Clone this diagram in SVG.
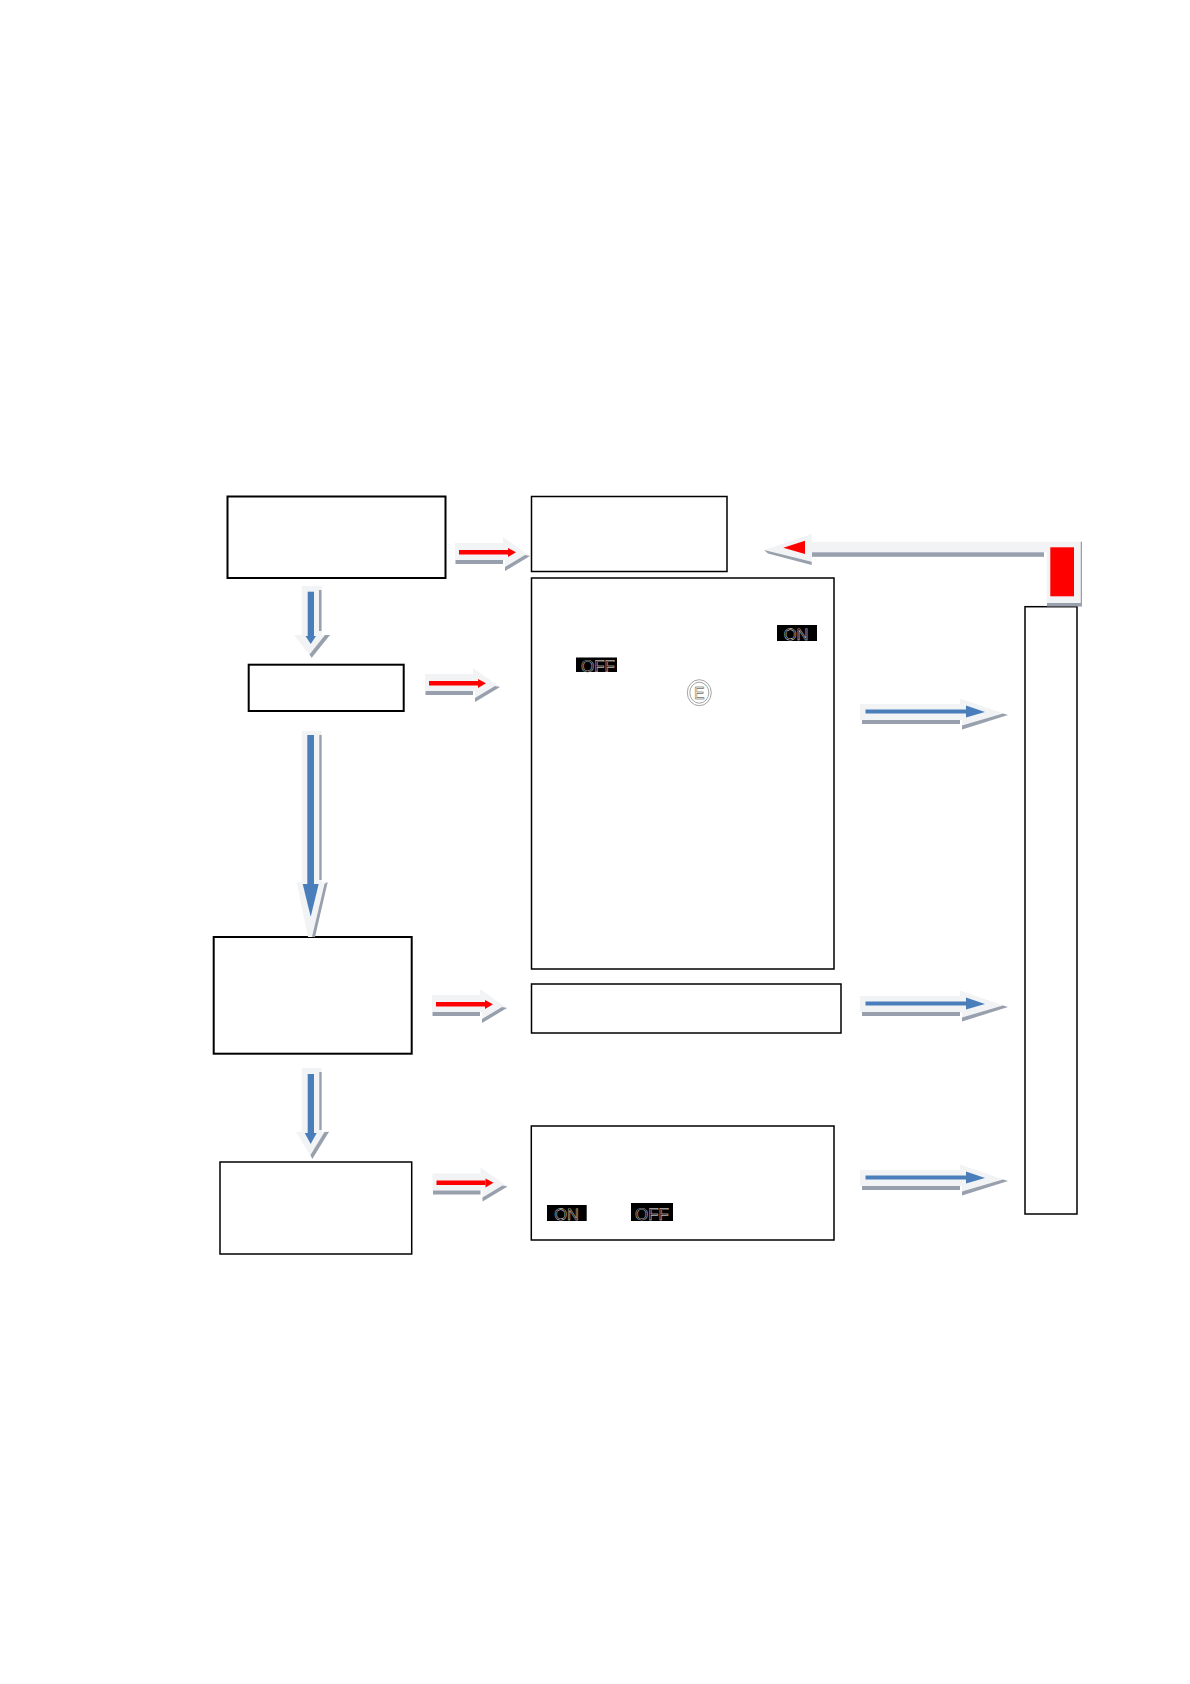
<svg xmlns="http://www.w3.org/2000/svg" width="1190" height="1684" viewBox="0 0 1190 1684">
<style>
.box{fill:#fff;stroke:#000;stroke-width:1.5}
.thick{stroke-width:2}
.lt{fill:#f2f3f5}
.gr{fill:#97a0ac}
.red{fill:#ff0000}
.blu{fill:#4a7ebb}
.badge{fill:#000}
.tag{font-family:"Liberation Sans",Arial,sans-serif;font-size:16.5px;fill:#000;stroke:#fff;stroke-width:.4;text-anchor:middle;text-rendering:geometricPrecision}
.wide{font-size:17px}
</style>
<defs>
<g id="redArrow">
<polygon class="lt" points="0,0 48,0 48,-6 75,13 50,28 50,17 0,17"/>
<rect class="gr" x="0.500" y="17" width="47.500" height="4"/>
<polygon class="gr" points="50,24 70,12 75,13 50,28"/>
<rect class="red" x="4" y="7" width="49" height="4.500"/>
<polygon class="red" points="53,5 61,9.200 53,14"/>
</g>
<g id="blueArrow">
<polygon class="lt" points="0,0 100,0 100,-5.500 148,11 102,25.500 102,16 0,16"/>
<rect class="gr" x="2" y="16" width="98" height="4"/>
<polygon class="gr" points="102,21.500 143,9.500 148,11 102,25.500"/>
<rect class="blu" x="5.500" y="5.500" width="101" height="4"/>
<polygon class="blu" points="106,1.500 125,8 106,13.500"/>
</g>
</defs>

<g id="n1"><rect class="box thick" x="227.500" y="496.500" width="218" height="81.500"/></g>
<g id="n2"><rect class="box" x="531.500" y="496.500" width="195.500" height="75"/></g>
<g id="n3">
<rect class="box" x="531.500" y="578" width="302.500" height="391"/>
<rect class="badge" x="777" y="625" width="40" height="16"/>
<text class="tag" x="796" y="640">ON</text>
<rect class="badge" x="576" y="657.500" width="41" height="14.500"/>
<text class="tag wide" x="598" y="671.500">OFF</text>
<ellipse cx="699.300" cy="692.700" rx="12" ry="13" fill="none" stroke="#8c8c8c" stroke-width=".8"/>
<ellipse cx="699.300" cy="692.700" rx="9.500" ry="10.500" fill="none" stroke="#8c8c8c" stroke-width=".8"/>
<text x="699.300" y="699" text-anchor="middle" font-family="'Liberation Sans',Arial,sans-serif" font-size="16" fill="#fff" stroke="#333" stroke-width=".4">E</text>
</g>
<g id="n4"><rect class="box thick" x="248.700" y="664.700" width="155" height="46.300"/></g>
<g id="n5"><rect class="box thick" x="213.700" y="937" width="198" height="116.700"/></g>
<g id="n6"><rect class="box" x="531.500" y="984" width="309.500" height="49"/></g>
<g id="n7"><rect class="box" x="220" y="1162" width="191.700" height="92"/></g>
<g id="n8">
<rect class="box" x="531.300" y="1126" width="302.700" height="114"/>
<rect class="badge" x="547" y="1205" width="39.700" height="16"/>
<text class="tag" x="566.500" y="1220">ON</text>
<rect class="badge" x="631" y="1203" width="42" height="18"/>
<text class="tag wide" x="652" y="1220">OFF</text>
</g>
<g id="n9"><rect class="box" x="1025" y="606.700" width="52" height="607.300"/></g>

<g id="connectors">
<use href="#redArrow" x="455" y="543"/>
<use href="#redArrow" x="425" y="674"/>
<use href="#redArrow" x="432" y="995"/>
<use href="#redArrow" x="432.500" y="1173.500"/>
<use href="#blueArrow" x="860" y="704"/>
<use href="#blueArrow" x="860" y="996"/>
<use href="#blueArrow" x="860" y="1170"/>

<g id="down1">
<polygon class="lt" points="301.700,586 321.700,586 321.700,635 330,635 311.700,657.700 294,635 301.700,635"/>
<rect class="gr" x="319" y="590" width="2.500" height="41"/>
<polygon class="gr" points="330,635 311.700,657.700 309.500,654.500 325,635"/>
<rect class="blu" x="307.700" y="591.700" width="6.300" height="45"/>
<polygon class="blu" points="305.500,636 316,636 310.700,644"/>
</g>
<g id="down2">
<polygon class="lt" points="301.700,731 321.700,731 321.700,882 327.700,882 313,937 308,937 296.700,882 301.700,882"/>
<rect class="gr" x="319.300" y="735" width="2.300" height="145"/>
<polygon class="gr" points="327.700,882 315,937 312,937 324.500,884"/>
<rect class="blu" x="307.300" y="735" width="6.700" height="150"/>
<polygon class="blu" points="302.700,884 318.700,884 310.700,916.700"/>
</g>
<g id="down3">
<polygon class="lt" points="301.700,1068 321.700,1068 321.700,1131.700 329,1131.700 312.300,1159 296,1131.700 301.700,1131.700"/>
<rect class="gr" x="319.300" y="1072" width="2.300" height="58"/>
<polygon class="gr" points="329,1131.700 312.300,1159 310.500,1155 324.500,1132"/>
<rect class="blu" x="307.700" y="1074" width="6.300" height="60"/>
<polygon class="blu" points="304.700,1133 316.700,1133 310.700,1144"/>
</g>
<g id="bent">
<polygon class="lt" points="764,550 811.700,534 811.700,541.700 1080.700,541.700 1080.700,603 1046.700,603 1046.700,552.300 811.700,552.300 811.700,561.700"/>
<polygon class="gr" points="764,550 811.700,561.700 811.700,565 768,553.500"/>
<rect class="gr" x="812" y="552.300" width="232" height="4.500"/>
<rect class="gr" x="1047" y="603" width="35" height="3.500"/>
<rect class="gr" x="1080.700" y="541.700" width="1.300" height="62"/>
<rect class="red" x="1050.300" y="547.300" width="23.700" height="49"/>
<polygon class="red" points="783.300,547.700 805,540.700 805,554"/>
</g>
</g>
</svg>
